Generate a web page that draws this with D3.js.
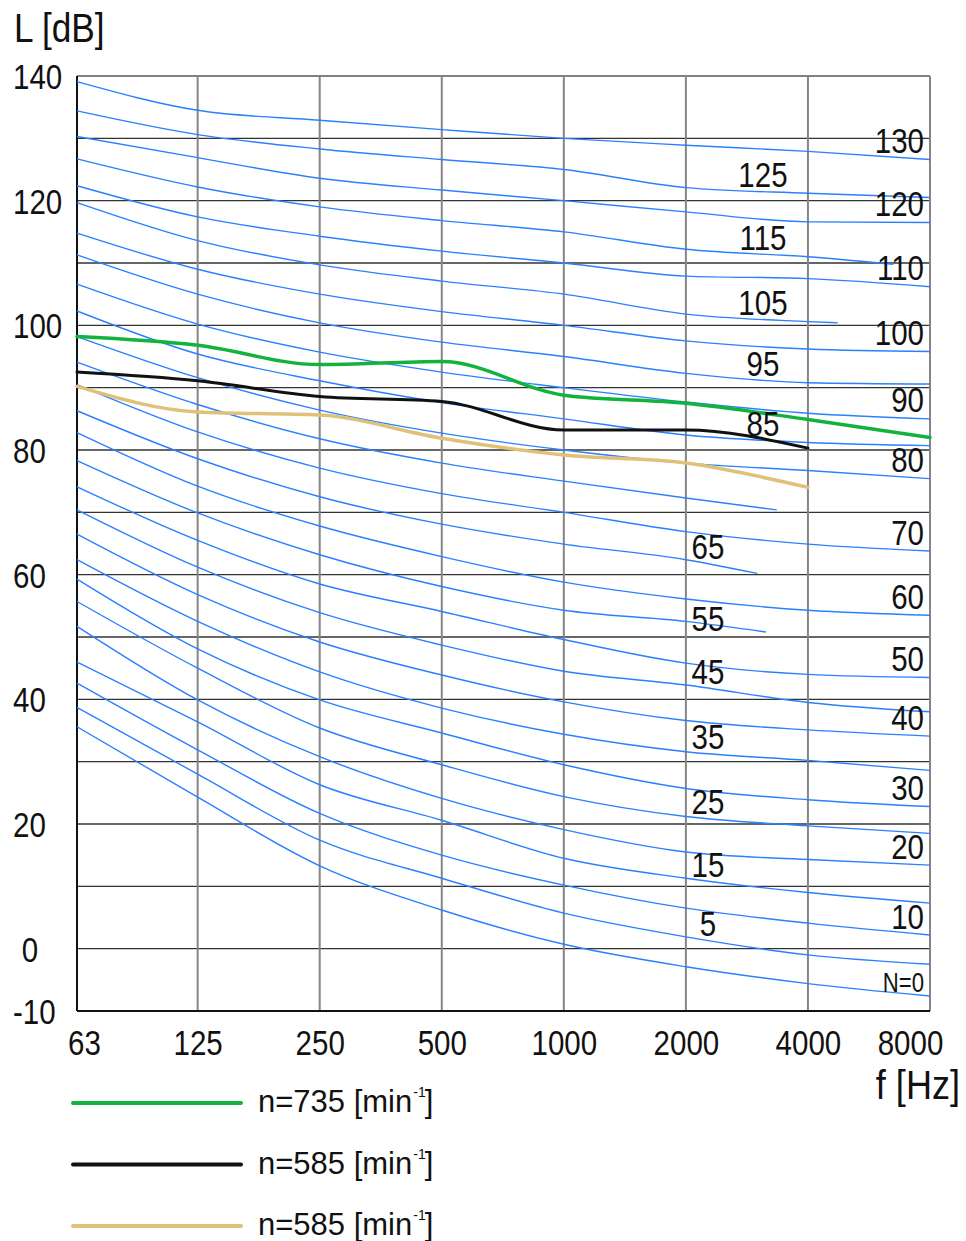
<!DOCTYPE html>
<html>
<head>
<meta charset="utf-8">
<script src="https://cdn.jsdelivr.net/npm/d3@7"></script>
<style>
  html, body { margin: 0; padding: 0; background: #fff; }
  svg { display: block; font-family: 'Liberation Sans', Arial, sans-serif; }
</style>
</head>
<body>
<svg id="chart" width="966" height="1241"></svg>
<script>
'use strict';

// octave bands and axis ticks
const bandFreqs = [63, 125, 250, 500, 1000, 2000, 4000, 8000];
const bandLabels = ['63', '125', '250', '500', '1000', '2000', '4000', '8000'];
const levelTicks = [140, 120, 100, 80, 60, 40, 20, 0, -10];

// NR curves (one entry per level, per octave band)
const nrLevels = [0, 5, 10, 15, 20, 25, 30, 35, 40, 45, 50, 55, 60, 65, 70, 75, 80, 85, 90, 95, 100, 105, 110, 115, 120, 125, 130];
const nr63   = [35.6, 38.7, 42.6, 46.0, 51.7, 55.7, 59.3, 62.4, 66.5, 70.4, 74.1, 78.3, 82.8, 86.3, 90.5, 94.1, 98.2, 102.3, 106.6, 111.3, 114.8, 119.7, 122.4, 126.7, 130.3, 134.4, 139.1];
const nr125  = [24.3, 28.0, 31.9, 36.4, 39.9, 45.0, 48.1, 52.5, 56.8, 61.2, 65.5, 69.9, 74.2, 78.6, 82.9, 87.3, 91.6, 95.4, 100.2, 105.0, 109.0, 113.6, 117.4, 122.2, 126.9, 130.6, 134.5];
const nr250  = [13.3, 17.4, 21.7, 26.3, 30.8, 35.4, 39.9, 44.4, 49.2, 53.9, 58.5, 63.2, 67.8, 72.5, 77.1, 81.8, 86.4, 91.1, 95.7, 100.4, 105.0, 109.7, 114.3, 119.0, 123.6, 128.3, 132.9];
const nr500  = [6.2, 11.3, 15.0, 20.6, 24.1, 29.5, 34.6, 38.6, 43.9, 48.7, 54.1, 58.1, 62.9, 68.1, 73.0, 77.9, 82.7, 87.6, 92.5, 97.3, 102.2, 107.1, 111.9, 116.8, 121.7, 126.6, 131.4];
const nr1000 = [0.7, 5.7, 10.2, 14.5, 19.1, 24.4, 29.5, 34.4, 39.6, 44.5, 49.6, 54.3, 58.8, 64.9, 70.0, 75.0, 80.0, 85.0, 90.0, 95.0, 100.0, 105.0, 110.0, 115.0, 120.0, 125.0, 130.0];
const nr2000 = [-2.9, 1.9, 6.5, 11.3, 15.5, 21.2, 25.7, 31.6, 36.6, 42.3, 45.8, 52.5, 56.1, 62.4, 66.9, 72.3, 77.9, 82.4, 87.7, 92.3, 97.5, 101.8, 107.9, 112.2, 118.2, 122.1, 128.9];
const nr4000 = [-5.6, -1.0, 4.1, 9.0, 14.3, 19.7, 23.9, 30.2, 35.1, 39.5, 44.0, null, 54.3, null, 64.9, null, 76.7, 81.2, 85.9, 90.8, 96.2, 100.6, 107.5, 111.0, 116.6, 121.2, 127.9];
const nr8000 = [-7.6, -2.5, 2.2, 7.3, 13.4, 18.5, 22.8, 28.6, 34.1, 38.0, 43.5, null, 53.5, null, 63.8, null, 75.4, 80.7, 85.0, 90.6, 95.8, null, 106.2, null, 116.5, 120.5, 126.6];

// some curves stop short of 8000 Hz
const cutLevels = [55, 65, 75, 105, 115];
const cutFreqs = [3150, 3000, 3350, 4740, 6500];
const cutValues = [50.8, 60.2, 70.4, 100.4, 109.8];

const rightLabelLevels = [0, 10, 20, 30, 40, 50, 60, 70, 80, 90, 100, 110, 120, 130];
const innerLabelLevels = [5, 15, 25, 35, 45, 55, 65, 85, 95, 105, 115, 125];

// measured spectra
const seriesNames = ['n=735 [min', 'n=585 [min', 'n=585 [min'];
const seriesColors = ['#12b33c', '#111111', '#dfc17a'];
const green735 = [98.2, 96.8, 93.7, 94.2, 88.8, 87.5, 84.9, 82.0];
const black585 = [92.5, 91.1, 88.6, 87.8, 83.2, 83.2, 80.3];
const tan585 = [90.2, 86.1, 85.6, 81.9, 79.2, 77.9, 74.0];

const svg = d3.select('#chart'),
  margin = { top: 76, right: 36, bottom: 230, left: 77 },
  width = 966 - margin.left - margin.right,
  height = 1241 - margin.top - margin.bottom;

const x = d3.scaleLog().base(2).domain([63, 8000]).range([0, width]),
  y = d3.scaleLinear().domain([-10, 140]).range([height, 0]);

// narrow the glyphs horizontally around each text's own x
function squeeze(sel, s) {
  sel.attr('transform', function () {
    const x0 = +this.getAttribute('x') || 0;
    return 'matrix(' + s + ',0,0,1,' + (x0 * (1 - s)) + ',0)';
  });
}

const g = svg.append('g')
  .attr('transform', 'translate(' + margin.left + ',' + margin.top + ')');

// grid
g.append('g').selectAll('line')
  .data(d3.range(-10, 141, 10))
  .enter().append('line')
  .attr('x1', 0).attr('x2', width)
  .attr('y1', (d) => y(d)).attr('y2', (d) => y(d))
  .attr('stroke', (d) => (d === 140 ? '#808080' : '#333'))
  .attr('stroke-width', (d) => (d === 140 || d === -10 ? 2 : 1.3));

g.append('g').selectAll('line')
  .data(bandFreqs)
  .enter().append('line')
  .attr('x1', (d) => x(d)).attr('x2', (d) => x(d))
  .attr('y1', 0).attr('y2', height)
  .attr('stroke', (d) => (d === 63 ? '#111' : '#858585'))
  .attr('stroke-width', 2);

g.append('line')
  .attr('x1', 0).attr('x2', width).attr('y1', height).attr('y2', height)
  .attr('stroke', '#111').attr('stroke-width', 2);

// NR curves
const nrColumns = [nr63, nr125, nr250, nr500, nr1000, nr2000, nr4000, nr8000];
const nrCurves = nrLevels.map((n, i) => {
  const pts = bandFreqs.map((f, j) => ({ f: f, v: nrColumns[j][i] }))
    .filter((p) => p.v !== null);
  const c = cutLevels.indexOf(n);
  if (c >= 0) pts.push({ f: cutFreqs[c], v: cutValues[c] });
  return { n: n, pts: pts };
});

const line = d3.line()
  .x((d) => x(d.f))
  .y((d) => y(d.v))
  .curve(d3.curveMonotoneX);

const nrPaths = g.append('g').selectAll('path')
  .data(nrCurves)
  .enter().append('path')
  .attr('d', (d) => line(d.pts))
  .attr('fill', 'none')
  .attr('stroke', '#2a80ff')
  .attr('stroke-width', 1.4);

// measured lines
[green735, black585, tan585].forEach((vals, k) => {
  g.append('path')
    .datum(vals.map((v, j) => ({ f: bandFreqs[j], v: v })))
    .attr('d', line)
    .attr('fill', 'none')
    .attr('stroke', seriesColors[k])
    .attr('stroke-width', k === 1 ? 3 : 3.5)
    .attr('stroke-linecap', 'round');
});

// find y of a curve path at a given x
function yOnPath(node, px) {
  let lo = 0, hi = node.getTotalLength();
  for (let it = 0; it < 40; it++) {
    const mid = (lo + hi) / 2;
    if (node.getPointAtLength(mid).x < px) lo = mid; else hi = mid;
  }
  return node.getPointAtLength(lo).y;
}

const pathByLevel = {};
nrPaths.each(function (d) { pathByLevel[d.n] = this; });

// curve labels at the right edge
g.append('g').selectAll('text')
  .data(rightLabelLevels)
  .enter().append('text')
  .attr('x', width - 6)
  .attr('y', (n) => y(nr8000[nrLevels.indexOf(n)]) - (n === 0 ? 13 : 19))
  .attr('dy', '0.35em')
  .attr('text-anchor', 'end')
  .attr('font-size', (n) => (n === 0 ? 27 : 36))
  .attr('fill', '#111')
  .text((n) => (n === 0 ? 'N=0' : n))
  .call(squeeze, 0.82);

// curve labels inside the plot
g.append('g').selectAll('text')
  .data(innerLabelLevels)
  .enter().append('text')
  .attr('x', (n) => (n >= 85 ? 686 : 631))
  .attr('y', (n) => yOnPath(pathByLevel[n], n >= 85 ? 686 : 631) - (n === 55 ? 6 : 17))
  .attr('dy', '0.35em')
  .attr('text-anchor', 'middle')
  .attr('font-size', 36)
  .attr('fill', '#111')
  .text((n) => n)
  .call(squeeze, 0.82);

// axes
const yAxis = g.append('g')
  .call(d3.axisLeft(y).tickValues(levelTicks).tickFormat((d) => String(d)).tickSize(0));
yAxis.select('.domain').remove();
yAxis.selectAll('text')
  .attr('x', (d) => (String(d).length === 1 ? -47 : -64))
  .attr('dy', '0.35em')
  .attr('text-anchor', (d) => (String(d).length === 1 ? 'middle' : 'start'))
  .attr('font-size', 36)
  .attr('fill', '#111')
  .call(squeeze, 0.82);

const xAxis = g.append('g')
  .attr('transform', 'translate(0,' + height + ')')
  .call(d3.axisBottom(x).tickValues(bandFreqs).tickFormat((d, i) => bandLabels[i]).tickSize(0));
xAxis.select('.domain').remove();
xAxis.selectAll('text')
  .attr('x', (d, i) => (i === 0 ? 7 : (i === bandFreqs.length - 1 ? -20 : 0)))
  .attr('y', 44)
  .attr('dy', 0)
  .attr('font-size', 36)
  .attr('fill', '#111')
  .call(squeeze, 0.82);

// axis titles
svg.append('text')
  .attr('x', 14).attr('y', 42)
  .attr('font-size', 40)
  .attr('fill', '#111')
  .text('L [dB]')
  .call(squeeze, 0.88);

svg.append('text')
  .attr('x', 960).attr('y', 1099)
  .attr('text-anchor', 'end')
  .attr('font-size', 41)
  .attr('fill', '#111')
  .text('f [Hz]')
  .call(squeeze, 0.88);

// legend
const legend = svg.append('g').attr('transform', 'translate(73,1103)');
seriesNames.forEach((name, k) => {
  const row = legend.append('g').attr('transform', 'translate(0,' + (k * 61.5) + ')');
  row.append('line')
    .attr('x1', 0).attr('x2', 168)
    .attr('stroke', seriesColors[k])
    .attr('stroke-width', 4)
    .attr('stroke-linecap', 'round');
  const t = row.append('text')
    .attr('x', 185).attr('y', 9)
    .attr('font-size', 31)
    .attr('fill', '#111');
  t.append('tspan').text(name);
  t.append('tspan').attr('font-size', 14).attr('dx', 1).attr('dy', -15).text('-1');
  t.append('tspan').attr('dx', -1).attr('dy', 15).text(']');
});
</script>
</body>
</html>
